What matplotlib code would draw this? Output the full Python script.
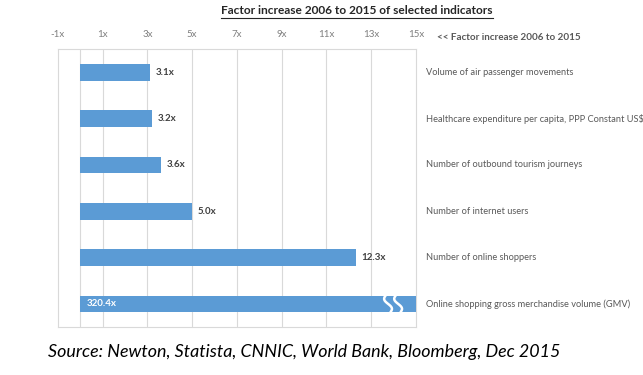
import numpy as np
from matplotlib import pyplot as plt

indicators = [
    "Volume of air passenger movements",
    "Healthcare expenditure per capita, PPP Constant US$",
    "Number of outbound tourism journeys",
    "Number of internet users",
    "Number of online shoppers",
    "Online shopping gross merchandise volume (GMV)",
]
factors = [3.1, 3.2, 3.6, 5.0, 12.3, 320.4]
tick_values = [-1, 1, 3, 5, 7, 9, 11, 13, 15]
tick_labels = ["-1x", "1x", "3x", "5x", "7x", "9x", "11x", "13x", "15x"]

BAR_COLOR = "#5B9BD5"
GRAY = "#7F7F7F"
XMAX = 15

plt.rcParams['font.family'] = ['Lato', 'DejaVu Sans']

fig = plt.figure(figsize=(6.43, 3.75), dpi=100)
ax = fig.add_axes([0.090, 0.128, 0.557, 0.741])

y = np.arange(len(factors))
shown = [min(f, XMAX) for f in factors]
ax.barh(y, shown, height=0.36, color=BAR_COLOR, zorder=3)

for yi, f in zip(y, factors):
    if f > XMAX:
        ax.text(0.3, yi, "%.1fx" % f, va='center', ha='left', color='white',
                fontsize=7, fontweight='bold', zorder=4)
        # break marks on the clipped bar
        t = np.linspace(-0.5, 0.5, 50)
        for x0 in [13.75, 14.2]:
            xs = x0 + 0.12 * np.sin(t * 2 * np.pi) + 0.1 * t * 2
            ax.plot(xs, yi + t * 0.37, color='white', lw=1.8, zorder=5,
                    solid_capstyle='butt')
    else:
        ax.text(f + 0.25, yi, "%.1fx" % f, va='center', ha='left', color='#404040',
                fontsize=7, fontweight='bold', zorder=4)
    ax.text(1.028, yi, indicators[yi], transform=ax.get_yaxis_transform(),
            va='center', ha='left', color='#595959', fontsize=6.65)

ax.set_xlim(-1, XMAX)
ax.set_ylim(5.5, -0.5)
for gx in [0] + tick_values[1:-1]:
    ax.axvline(gx, color='#D9D9D9', lw=0.8, zorder=1)
ax.set_xticks(tick_values)
ax.set_xticklabels(tick_labels, color=GRAY, fontsize=7)
ax.xaxis.tick_top()
ax.tick_params(axis='x', length=0, pad=7)
ax.set_yticks([])
for s in ax.spines.values():
    s.set_color('#D9D9D9')
    s.set_linewidth(0.8)

ax.text(1.059, 1.043, "<< Factor increase 2006 to 2015", transform=ax.transAxes,
        va='center', ha='left', color='#595959', fontsize=7.1, fontweight='bold')

fig.text(0.555, 0.971, "Factor increase 2006 to 2015 of selected indicators",
         ha='center', va='center', fontsize=8.6, fontweight='bold',
         color='#262626')
fig.add_artist(plt.Line2D([0.344, 0.767], [0.951, 0.951], color='#262626', lw=0.8))

fig.text(0.075, 0.061, "Source: Newton, Statista, CNNIC, World Bank, Bloomberg, Dec 2015",
         ha='left', va='center', fontsize=12.9, style='italic', color='black')

fig.savefig("out.png", dpi=100)
